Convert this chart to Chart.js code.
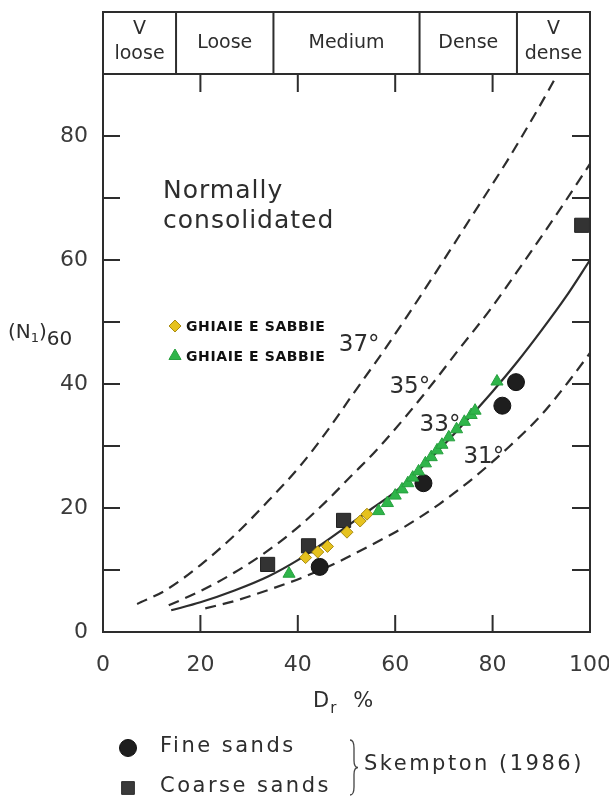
<!DOCTYPE html>
<html>
<head>
<meta charset="utf-8">
<title>SPT (N1)60 vs Dr</title>
<script src="https://cdn.jsdelivr.net/npm/chart.js@4.4.1/dist/chart.umd.min.js"></script>
<style>
    html, body { margin: 0; padding: 0; background: #fff; }
    #wrap { width: 609px; height: 800px; }
</style>
</head>
<body>
<div id="wrap"><canvas id="sptChart" width="609" height="800"></canvas></div>
<script>
// density classes along the top band
const DENSITY_BOUNDS = [0, 15, 35, 65, 85, 100];
const DENSITY_LABELS = [['V', 'loose'], ['Loose'], ['Medium'], ['Dense'], ['V', 'dense']];

// axis ticks
const X_TICKS = [0, 20, 40, 60, 80, 100];
const Y_MINOR_TICKS = [10, 20, 30, 40, 50, 60, 70, 80];

// Skempton (1986) data
const fineSands = [[44.5, 10.5], [65.8, 24], [82, 36.5], [84.8, 40.3]];
const coarseSands = [[33.8, 10.9], [42.2, 13.9], [49.4, 18], [98.3, 65.6]];

// GHIAIE E SABBIE
const gravelDiamonds = [[41.6, 12], [44.1, 12.9], [46.1, 13.8], [50.1, 16.1], [52.8, 17.9], [54.2, 19]];
const gravelTriangles = [
    [38.2, 9.4], [56.6, 19.5], [58.4, 20.8], [60, 22], [61.4, 23], [62.6, 24],
    [63.6, 24.9], [64.8, 25.9], [66.2, 27.2], [67.4, 28.2], [68.6, 29.3], [69.6, 30.2],
    [71, 31.4], [72.6, 32.7], [74.2, 33.9], [75.6, 35], [76.4, 35.7], [80.9, 40.4]
];

// friction angle curves
const curve37 = [[7, 4.5], [13, 6.8], [20, 10.8], [27, 15.6], [34, 21.2], [40.5, 26.8], [46, 32.4],
    [51, 38], [57.5, 45.2], [62.5, 51], [69, 58.8], [76, 67.4], [83, 76], [89.5, 84.6], [93, 89.5]];
const curve35 = [[13.5, 4.3], [20, 6.6], [27, 9.6], [34, 13.2], [40.5, 17.2], [46, 21.2], [51, 25.2],
    [56, 29.2], [62, 34.6], [68, 40.4], [73, 45.5], [79.5, 52], [86, 59.2], [93, 67.2], [100, 75.5]];
const curve33 = [[14, 3.5], [20, 4.8], [27, 6.7], [34, 9], [40, 11.6], [45, 14.2], [50, 17], [55, 19.8],
    [60, 22.6], [65, 26.2], [70, 30.2], [75, 34.4], [80, 38.8], [85, 43.5], [90, 48.6], [95, 54], [100, 60]];
const curve31 = [[21, 3.8], [27, 5], [34, 6.8], [41, 8.8], [48, 11.2], [55, 14], [62, 17], [69, 20.6],
    [76, 24.8], [83, 29.6], [90, 35], [96, 40.8], [100, 45]];
const ANGLE_LABELS = ['37°', '35°', '33°', '31°'];

const INK = '#2d2d2d';
const FONT = '"DejaVu Sans", sans-serif';

const toXY = arr => arr.map(([x, y]) => ({ x, y }));

function curveDataset(points, dashed) {
    return {
        data: toXY(points),
        showLine: true,
        pointRadius: 0,
        borderColor: INK,
        borderWidth: 2.2,
        borderDash: dashed ? [11, 7] : [],
        cubicInterpolationMode: 'monotone',
        fill: false,
        order: 10
    };
}

/**
 * draws a run of text pieces, some of them lowered as subscripts
 */
function drawRuns(ctx, x, y, runs) {
    runs.forEach(r => {
        ctx.font = `${r.size}px ${FONT}`;
        ctx.fillText(r.t, x + (r.dx || 0), y + (r.dy || 0));
        x += (r.dx || 0) + ctx.measureText(r.t).width;
    });
}

function marker(ctx, style, radius, fill, stroke, x, y) {
    ctx.fillStyle = fill;
    ctx.strokeStyle = stroke;
    ctx.lineWidth = 1;
    Chart.helpers.drawPoint(ctx, { pointStyle: style, radius, rotation: 0, borderWidth: 1 }, x, y);
}

// thin right-facing curly brace between top and bottom
function drawBrace(ctx, x, top, bottom, depth) {
    const mid = (top + bottom) / 2;
    ctx.beginPath();
    ctx.moveTo(x - depth, top);
    ctx.quadraticCurveTo(x, top, x, top + 8);
    ctx.lineTo(x, mid - 7);
    ctx.quadraticCurveTo(x, mid, x + depth, mid);
    ctx.quadraticCurveTo(x, mid, x, mid + 7);
    ctx.lineTo(x, bottom - 8);
    ctx.quadraticCurveTo(x, bottom, x - depth, bottom);
    ctx.stroke();
}

const diagramDecor = {
    id: 'diagramDecor',
    beforeDatasetsDraw(chart) {
        const { ctx, scales: { x, y } } = chart;
        ctx.save();
        ctx.fillStyle = INK;
        ctx.textBaseline = 'alphabetic';
        ctx.textAlign = 'left';
        ctx.font = `25px ${FONT}`;
        ctx.letterSpacing = '1px';
        ctx.fillText('Normally', 163, 198);
        ctx.fillText('consolidated', 163, 228);
        ctx.letterSpacing = '0px';

        // angle labels next to their curves
        const anchors = [[52.6, 46.3], [63, 39.5], [69.2, 33.4], [78.2, 28.2]];
        ctx.font = `23px ${FONT}`;
        ctx.textAlign = 'center';
        ctx.textBaseline = 'middle';
        ANGLE_LABELS.forEach((t, i) => {
            ctx.fillText(t, x.getPixelForValue(anchors[i][0]), y.getPixelForValue(anchors[i][1]));
        });
        ctx.restore();
    },
    afterDraw(chart) {
        const { ctx, chartArea: a, scales: { x, y } } = chart;
        ctx.save();
        ctx.strokeStyle = INK;
        ctx.fillStyle = INK;
        ctx.lineWidth = 2;

        // plot frame
        ctx.strokeRect(a.left, a.top, a.right - a.left, a.bottom - a.top);

        // inward ticks on all four sides
        ctx.beginPath();
        X_TICKS.slice(1, -1).forEach(v => {
            const px = x.getPixelForValue(v);
            ctx.moveTo(px, a.bottom); ctx.lineTo(px, a.bottom - 17);
            ctx.moveTo(px, a.top); ctx.lineTo(px, a.top + 18);
        });
        Y_MINOR_TICKS.forEach(v => {
            const py = y.getPixelForValue(v);
            ctx.moveTo(a.left, py); ctx.lineTo(a.left + 17, py);
            ctx.moveTo(a.right, py); ctx.lineTo(a.right - 18, py);
        });
        ctx.stroke();

        // density band
        const bandTop = 12;
        ctx.strokeRect(a.left, bandTop, a.right - a.left, a.top - bandTop);
        ctx.beginPath();
        DENSITY_BOUNDS.slice(1, -1).forEach(v => {
            const px = x.getPixelForValue(v);
            ctx.moveTo(px, bandTop); ctx.lineTo(px, a.top);
        });
        ctx.stroke();
        ctx.font = `19px ${FONT}`;
        ctx.textAlign = 'center';
        ctx.textBaseline = 'middle';
        DENSITY_LABELS.forEach((lines, i) => {
            const cx = (x.getPixelForValue(DENSITY_BOUNDS[i]) + x.getPixelForValue(DENSITY_BOUNDS[i + 1])) / 2;
            const cy = (bandTop + a.top) / 2;
            if (lines.length === 1) {
                ctx.fillText(lines[0], cx, cy);
            } else {
                ctx.fillText(lines[0], cx, cy - 14);
                ctx.fillText(lines[1], cx, cy + 11);
            }
        });

        // axis titles
        ctx.textAlign = 'left';
        ctx.textBaseline = 'alphabetic';
        drawRuns(ctx, 8, 338, [
            { t: '(N', size: 20 }, { t: '1', size: 13, dy: 4 }, { t: ')', size: 20 }, { t: '60', size: 20, dy: 7 }
        ]);
        drawRuns(ctx, 313, 707, [
            { t: 'D', size: 21 }, { t: 'r', size: 15, dy: 6, dx: 1 }, { t: '%', size: 21, dx: 17 }
        ]);

        // series key inside the plot
        marker(ctx, 'rectRot', 6, '#e6c21e', '#a98c12', 175, 326);
        marker(ctx, 'triangle', 7, '#2fb54a', '#27a03f', 175, 356);
        ctx.fillStyle = '#111';
        ctx.font = `bold 14px ${FONT}`;
        ctx.letterSpacing = '0.6px';
        ctx.textBaseline = 'middle';
        ctx.fillText('GHIAIE E SABBIE', 186, 327);
        ctx.fillText('GHIAIE E SABBIE', 186, 357);

        // Skempton key below the axis
        marker(ctx, 'circle', 8.5, '#1e1e1e', '#111', 128, 748);
        marker(ctx, 'rect', 9, '#3a3a3a', '#2a2a2a', 128, 788);
        ctx.fillStyle = INK;
        ctx.font = `21px ${FONT}`;
        ctx.letterSpacing = '2.5px';
        ctx.fillText('Fine sands', 160, 747);
        ctx.fillText('Coarse sands', 160, 787);
        ctx.fillText('Skempton (1986)', 364, 765);
        ctx.letterSpacing = '0px';
        ctx.lineWidth = 1.3;
        ctx.strokeStyle = '#444';
        drawBrace(ctx, 354, 740, 795, 4);
        ctx.restore();
    }
};

const pointDefaults = { showLine: false, clip: false };

new Chart(document.getElementById('sptChart'), {
    type: 'scatter',
    data: {
        datasets: [
            { ...pointDefaults, label: 'GHIAIE E SABBIE', data: toXY(gravelTriangles), pointStyle: 'triangle',
              pointRadius: 7, backgroundColor: '#2fb54a', borderColor: '#27a03f', borderWidth: 1, order: 1 },
            { ...pointDefaults, label: 'GHIAIE E SABBIE', data: toXY(gravelDiamonds), pointStyle: 'rectRot',
              pointRadius: 6, backgroundColor: '#e6c21e', borderColor: '#a98c12', borderWidth: 1, order: 2 },
            { ...pointDefaults, label: 'Fine sands', data: toXY(fineSands), pointStyle: 'circle',
              pointRadius: 8.5, backgroundColor: '#1e1e1e', borderColor: '#111', borderWidth: 1, order: 3 },
            { ...pointDefaults, label: 'Coarse sands', data: toXY(coarseSands), pointStyle: 'rect',
              pointRadius: 10, backgroundColor: '#333', borderColor: '#222', borderWidth: 1, order: 4 },
            curveDataset(curve37, true),
            curveDataset(curve35, true),
            curveDataset(curve33, false),
            curveDataset(curve31, true)
        ]
    },
    options: {
        responsive: false,
        animation: false,
        devicePixelRatio: 1,
        layout: { padding: { top: 74, right: 19, left: 0, bottom: 0 } },
        plugins: { legend: { display: false }, tooltip: { enabled: false } },
        scales: {
            x: {
                type: 'linear', min: 0, max: 100,
                grid: { display: false }, border: { display: false },
                ticks: { stepSize: 20, padding: 12, color: '#3a3a3a', font: { family: FONT, size: 22 } },
                afterFit(scale) {
                    scale.height = 168;
                    scale.paddingLeft = 0;
                    scale.paddingRight = 0;
                }
            },
            y: {
                type: 'linear', min: 0, max: 90,
                grid: { display: false }, border: { display: false },
                ticks: {
                    stepSize: 10, padding: 7, color: '#3a3a3a', font: { family: FONT, size: 22 },
                    callback: v => (v % 20 === 0 ? v : '')
                },
                afterFit(scale) {
                    scale.width = 103;
                    scale.paddingTop = 0;
                    scale.paddingBottom = 0;
                }
            }
        }
    },
    plugins: [diagramDecor]
});
</script>
</body>
</html>
